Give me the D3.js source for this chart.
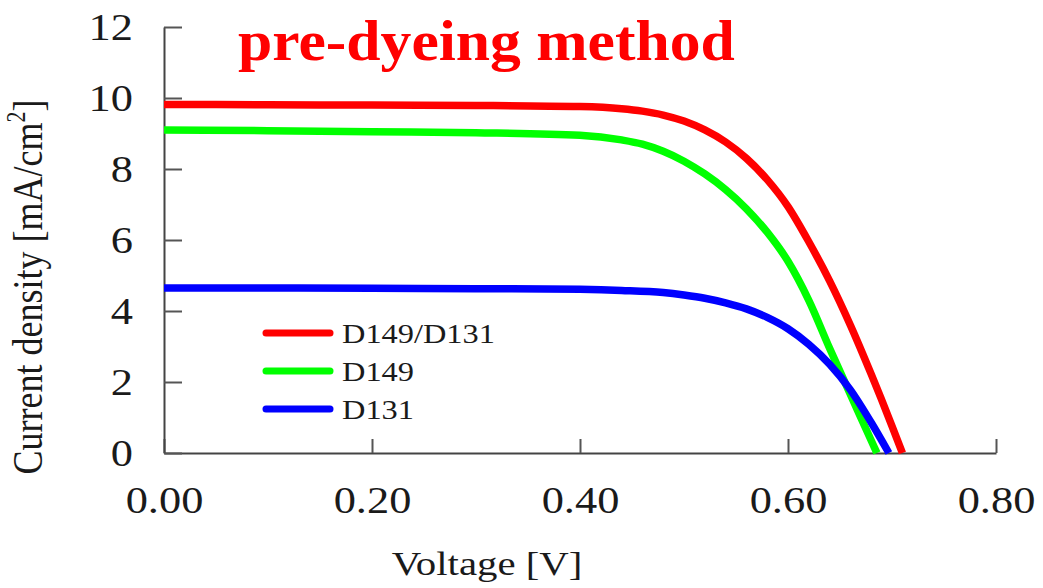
<!DOCTYPE html>
<html>
<head>
<meta charset="utf-8">
<script src="https://cdn.jsdelivr.net/npm/d3@7"></script>
<style>
  html, body { margin: 0; padding: 0; background: #fff; }
  svg { display: block; }
  text { font-family: "Liberation Serif", "Times New Roman", serif; }
</style>
</head>
<body>
<svg id="chart" width="1043" height="588"></svg>
<script>
// J–V curves (voltage in V, current density in mA/cm²)
const voltageRed   = [0.00, 0.10, 0.20, 0.30, 0.40, 0.44, 0.46, 0.48, 0.50, 0.52, 0.54, 0.56, 0.58, 0.60, 0.62, 0.64, 0.66, 0.68, 0.70, 0.710];
const currentRed   = [9.82, 9.81, 9.80, 9.79, 9.76, 9.70, 9.63, 9.52, 9.35, 9.10, 8.76, 8.30, 7.70, 6.94, 5.95, 4.85, 3.60, 2.22, 0.76, 0.00];

const voltageGreen = [0.00, 0.10, 0.20, 0.30, 0.40, 0.44, 0.46, 0.48, 0.50, 0.52, 0.54, 0.56, 0.58, 0.60, 0.62, 0.64, 0.66, 0.68, 0.6855];
const currentGreen = [9.10, 9.08, 9.05, 9.02, 8.95, 8.82, 8.70, 8.50, 8.22, 7.86, 7.42, 6.88, 6.22, 5.40, 4.30, 2.95, 1.65, 0.35, 0.00];

const voltageBlue  = [0.00, 0.10, 0.20, 0.30, 0.40, 0.44, 0.48, 0.50, 0.52, 0.54, 0.56, 0.58, 0.60, 0.62, 0.64, 0.66, 0.68, 0.697];
const currentBlue  = [4.65, 4.65, 4.64, 4.63, 4.61, 4.58, 4.52, 4.45, 4.36, 4.23, 4.06, 3.82, 3.50, 3.06, 2.50, 1.78, 0.86, 0.00];

const seriesNames  = ["D149/D131", "D149", "D131"];
const seriesColors = ["#ff0000", "#00ff00", "#0000ff"];

const xTickValues = [0.00, 0.20, 0.40, 0.60, 0.80];
const xTickLabels = ["0.00", "0.20", "0.40", "0.60", "0.80"];
const yTickValues = [0, 2, 4, 6, 8, 10, 12];
const yTickLabels = ["0", "2", "4", "6", "8", "10", "12"];

const titleText = "pre-dyeing method";
const xTitle = "Voltage [V]";

const svg = d3.select("#chart");
const sx = 1.2; // horizontal glyph stretch used for all labels

const x = d3.scaleLinear().domain([0, 0.8]).range([164, 996]);
const y = d3.scaleLinear().domain([0, 12]).range([453, 27]);

// Axes: ticks point inward, no outer ticks
const xAxis = d3.axisBottom(x).tickValues(xTickValues)
  .tickFormat((d, i) => xTickLabels[i]).tickSizeInner(-14).tickSizeOuter(0);
const yAxis = d3.axisLeft(y).tickValues(yTickValues)
  .tickFormat((d, i) => yTickLabels[i]).tickSizeInner(-18).tickSizeOuter(0);

const gx = svg.append("g").attr("transform", `translate(0,${y(0)})`).call(xAxis);
const gy = svg.append("g").attr("transform", `translate(${x(0)},0)`).call(yAxis);

[gx, gy].forEach(g => {
  g.select(".domain").attr("stroke", "#444").attr("stroke-width", 2);
  g.selectAll(".tick line").attr("stroke", "#555").attr("stroke-width", 2);
  g.selectAll(".tick text")
    .attr("fill", "#1a1a1a")
    .attr("font-family", "Liberation Serif, Times New Roman, serif")
    .attr("font-size", 37)
    .attr("x", 0).attr("y", 0).attr("dy", null);
});
gx.selectAll(".tick text")
  .attr("text-anchor", "middle")
  .attr("transform", `translate(0,60) scale(${sx},1)`);
gy.selectAll(".tick text")
  .attr("text-anchor", "end")
  .attr("transform", `translate(-31,12.5) scale(${sx},1)`);

// Y axis title with superscript
const yt = svg.append("text")
  .attr("transform", `translate(42,287) rotate(-90) scale(1,${sx})`)
  .attr("text-anchor", "middle")
  .attr("font-size", 36)
  .attr("fill", "#1a1a1a");
yt.append("tspan").text("Current density [mA/cm");
yt.append("tspan").attr("font-size", 22).attr("dy", -14).text("2");
yt.append("tspan").attr("dy", 14).text("]");

// X axis title
svg.append("text")
  .attr("transform", `translate(487,575) scale(${sx},1)`)
  .attr("text-anchor", "middle")
  .attr("font-size", 34)
  .attr("fill", "#1a1a1a")
  .text(xTitle);

// Chart title
svg.append("text")
  .attr("transform", `translate(238,60) scale(1.1,1)`)
  .attr("font-size", 56)
  .attr("font-weight", "bold")
  .attr("fill", "#ff0000")
  .text(titleText);

// Curves
const series = [
  { v: voltageGreen, j: currentGreen, color: seriesColors[1] },
  { v: voltageBlue,  j: currentBlue,  color: seriesColors[2] },
  { v: voltageRed,   j: currentRed,   color: seriesColors[0] }
];
const line = d3.line().x(d => x(d[0])).y(d => y(d[1])).curve(d3.curveMonotoneX);
series.forEach(s => {
  svg.append("path")
    .datum(s.v.map((v, i) => [v, s.j[i]]))
    .attr("fill", "none")
    .attr("stroke", s.color)
    .attr("stroke-width", 7.5)
    .attr("d", line);
});

// Legend
const legend = svg.append("g").attr("transform", "translate(266,333)");
seriesNames.forEach((name, i) => {
  const row = legend.append("g").attr("transform", `translate(0,${i * 38})`);
  row.append("line").attr("x1", 0).attr("x2", 64).attr("y1", 0).attr("y2", 0)
    .attr("stroke", seriesColors[i]).attr("stroke-width", 7).attr("stroke-linecap", "round");
  row.append("text")
    .attr("transform", `translate(76,10) scale(${sx},1)`)
    .attr("font-size", 27)
    .attr("fill", "#1a1a1a")
    .text(name);
});
</script>
</body>
</html>
